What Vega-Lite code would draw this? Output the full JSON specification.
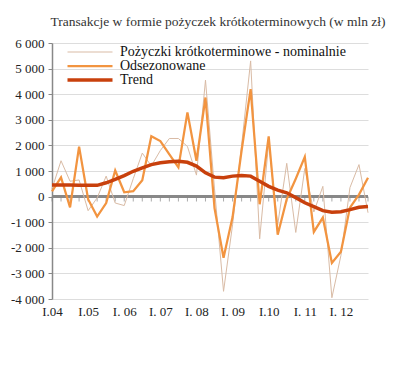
{
  "$schema": "https://vega.github.io/schema/vega-lite/v6.json",
  "width": 316,
  "height": 256,
  "autosize": "none",
  "padding": {"left": 52, "top": 43, "right": 52, "bottom": 71},
  "background": "white",
  "title": {
    "text": "Transakcje w formie pożyczek krótkoterminowych (w mln zł)",
    "font": "Liberation Serif",
    "fontSize": 13.5,
    "fontWeight": "normal",
    "color": "#333333",
    "offset": 9,
    "dx": 8
  },
  "config": {
    "view": {"stroke": null},
    "font": "Liberation Serif"
  },
  "datasets": {
    "loans": [
      {"q": "2004Q1", "nom": 300, "sa": 200, "trend": 450},
      {"q": "2004Q2", "nom": 1400, "sa": 750, "trend": 450},
      {"q": "2004Q3", "nom": 600, "sa": -420, "trend": 450},
      {"q": "2004Q4", "nom": 650, "sa": 1950, "trend": 440},
      {"q": "2005Q1", "nom": -550, "sa": -100, "trend": 440},
      {"q": "2005Q2", "nom": -50, "sa": -780, "trend": 440},
      {"q": "2005Q3", "nom": 800, "sa": -250, "trend": 540},
      {"q": "2005Q4", "nom": -250, "sa": 1020, "trend": 670},
      {"q": "2006Q1", "nom": -350, "sa": 170, "trend": 820},
      {"q": "2006Q2", "nom": 700, "sa": 210, "trend": 990},
      {"q": "2006Q3", "nom": 1700, "sa": 640, "trend": 1120},
      {"q": "2006Q4", "nom": 1200, "sa": 2360, "trend": 1250},
      {"q": "2007Q1", "nom": 1800, "sa": 2170, "trend": 1320},
      {"q": "2007Q2", "nom": 2270, "sa": 1650, "trend": 1360},
      {"q": "2007Q3", "nom": 2270, "sa": 1140, "trend": 1380},
      {"q": "2007Q4", "nom": 1960, "sa": 3290, "trend": 1340},
      {"q": "2008Q1", "nom": 840, "sa": 1400, "trend": 1190},
      {"q": "2008Q2", "nom": 4550, "sa": 3870, "trend": 930},
      {"q": "2008Q3", "nom": 300, "sa": -450, "trend": 760},
      {"q": "2008Q4", "nom": -3700, "sa": -2390, "trend": 740},
      {"q": "2009Q1", "nom": -1100, "sa": -800, "trend": 800},
      {"q": "2009Q2", "nom": 2000, "sa": 1800, "trend": 820},
      {"q": "2009Q3", "nom": 5300, "sa": 4200, "trend": 800},
      {"q": "2009Q4", "nom": -1650, "sa": -300, "trend": 600},
      {"q": "2010Q1", "nom": 2100, "sa": 2350, "trend": 400},
      {"q": "2010Q2", "nom": -1100, "sa": -1490, "trend": 250},
      {"q": "2010Q3", "nom": 1300, "sa": -100, "trend": 150},
      {"q": "2010Q4", "nom": -1400, "sa": 700, "trend": -40},
      {"q": "2011Q1", "nom": 1100, "sa": 1550, "trend": -240},
      {"q": "2011Q2", "nom": -600, "sa": -1380, "trend": -390},
      {"q": "2011Q3", "nom": 400, "sa": -820, "trend": -550},
      {"q": "2011Q4", "nom": -3950, "sa": -2590, "trend": -610},
      {"q": "2012Q1", "nom": -2300, "sa": -2150, "trend": -590},
      {"q": "2012Q2", "nom": 350, "sa": -430, "trend": -510},
      {"q": "2012Q3", "nom": 1250, "sa": 80, "trend": -420},
      {"q": "2012Q4", "nom": -630, "sa": 740, "trend": -390}
    ]
  },
  "data": {"name": "loans"},
  "encoding": {
    "y": {
      "type": "quantitative",
      "scale": {"domain": [-4000, 6000], "nice": false, "zero": false},
      "axis": {
        "title": null,
        "tickCount": 11,
        "values": [-4000, -3000, -2000, -1000, 0, 1000, 2000, 3000, 4000, 5000, 6000],
        "labelExpr": "(datum.value < 0 ? '-' : '') + replace(format(abs(datum.value), ','), ',', ' ')",
        "labelFont": "Liberation Serif",
        "labelFontSize": 13,
        "labelColor": "#222222",
        "labelPadding": 4,
        "labelOverlap": false,
        "labelSeparation": -30,
        "labelBound": false,
        "domainColor": "#888888",
        "domainWidth": 1.5,
        "tickColor": "#888888",
        "tickSize": 4,
        "grid": true,
        "gridColor": "#dddddd",
        "gridWidth": 1
      }
    }
  },
  "layer": [
    {
      "mark": {"type": "rule", "color": "#888888", "strokeWidth": 1.5},
      "encoding": {
        "y": {"datum": 0, "type": "quantitative"}
      }
    },
    {
      "mark": {"type": "tick", "orient": "vertical", "color": "#888888", "size": 5, "thickness": 1, "yOffset": 2.5},
      "encoding": {
        "x": {
          "field": "q",
          "type": "ordinal",
          "scale": {"type": "point", "padding": 0},
          "axis": {
            "title": null,
            "values": ["2004Q1", "2005Q1", "2006Q1", "2007Q1", "2008Q1", "2009Q1", "2010Q1", "2011Q1", "2012Q1"],
            "labelExpr": "{'2004Q1':'I.04','2005Q1':'I.05','2006Q1':'I. 06','2007Q1':'I. 07','2008Q1':'I. 08','2009Q1':'I. 09','2010Q1':'I.10','2011Q1':'I. 11','2012Q1':'I. 12'}[datum.value]",
            "labelAngle": 0,
            "labelFont": "Liberation Serif",
            "labelFontSize": 13,
            "labelColor": "#222222",
            "labelPadding": 6,
            "labelOverlap": false,
            "domain": false,
            "ticks": false,
            "grid": false
          }
        },
        "y": {"datum": 0, "type": "quantitative"}
      }
    },
    {
      "transform": [{"fold": ["nom", "sa", "trend"], "as": ["series", "v"]}],
      "mark": {"type": "line", "strokeJoin": "miter", "strokeCap": "butt"},
      "encoding": {
        "x": {"field": "q", "type": "ordinal"},
        "y": {"field": "v", "type": "quantitative"},
        "color": {
          "field": "series",
          "type": "nominal",
          "scale": {"domain": ["nom", "sa", "trend"], "range": ["#d9bba5", "#f29440", "#c8400c"]},
          "legend": {
            "title": null,
            "orient": "none",
            "legendX": 31,
            "legendY": 2,
            "padding": 0,
            "symbolType": "M-5,0H5",
            "symbolSize": 81,
            "labelFont": "Liberation Serif",
            "labelFontSize": 14,
            "labelColor": "#111111",
            "labelOffset": 23,
            "labelLimit": 400,
            "rowPadding": 0,
            "labelExpr": "datum.label == 'nom' ? 'Pożyczki krótkoterminowe - nominalnie' : datum.label == 'sa' ? 'Odsezonowane' : 'Trend'"
          }
        },
        "strokeWidth": {
          "field": "series",
          "type": "nominal",
          "scale": {"domain": ["nom", "sa", "trend"], "range": [1, 3.5, 5]},
          "legend": {
            "title": null,
            "orient": "none",
            "legendX": 31,
            "legendY": 2,
            "padding": 0,
            "symbolType": "M-5,0H5",
            "symbolSize": 81,
            "labelFont": "Liberation Serif",
            "labelFontSize": 14,
            "labelColor": "#111111",
            "labelOffset": 23,
            "labelLimit": 400,
            "rowPadding": 0,
            "labelExpr": "datum.label == 'nom' ? 'Pożyczki krótkoterminowe - nominalnie' : datum.label == 'sa' ? 'Odsezonowane' : 'Trend'"
          }
        }
      }
    }
  ]
}
